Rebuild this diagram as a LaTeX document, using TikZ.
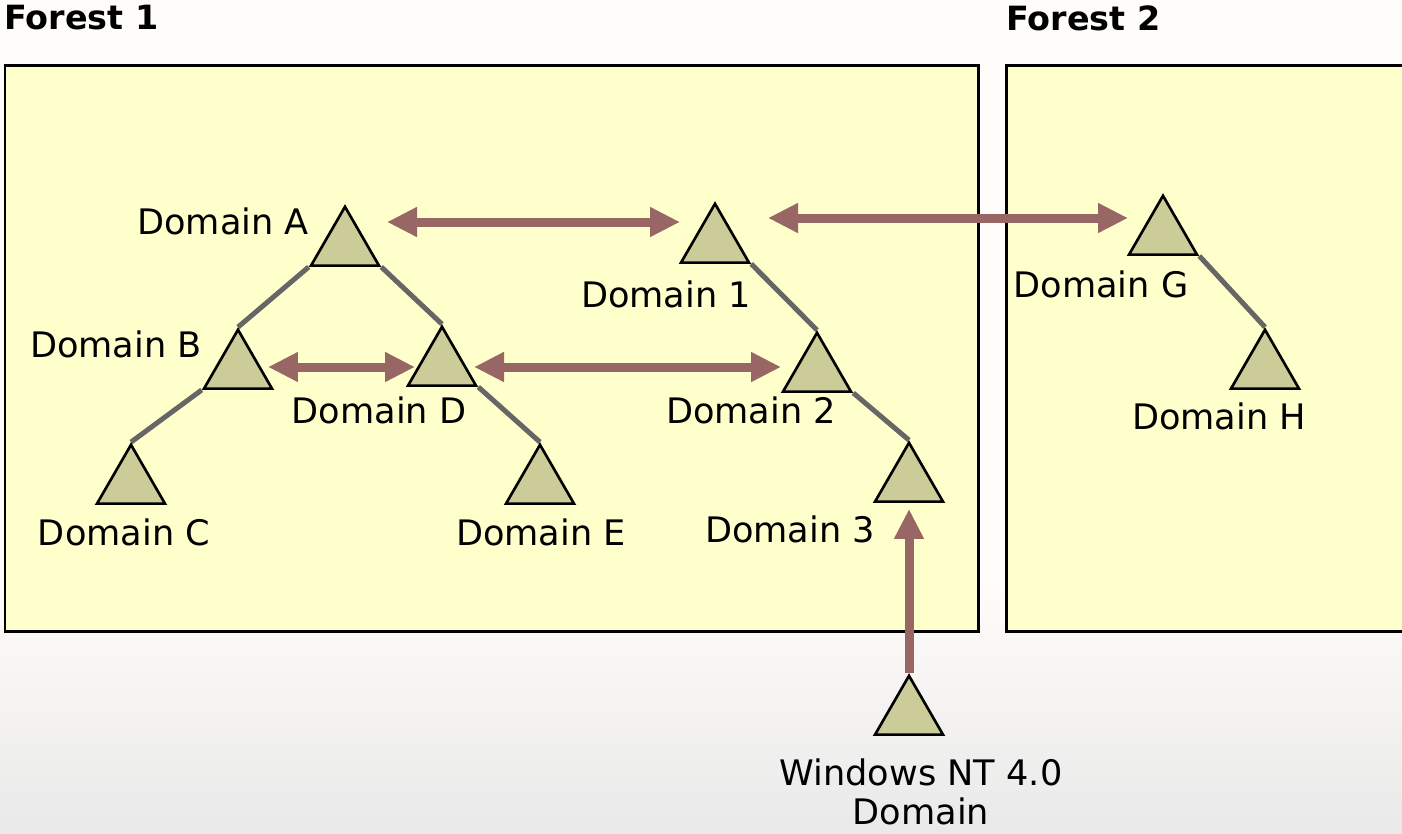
\documentclass[tikz,border=0pt]{standalone}
\usepackage{fontspec}
\setmainfont{DejaVu Sans}
\usepackage{xcolor}
\usepackage{tikz}
\usetikzlibrary{calc, positioning, arrows.meta, shapes, shapes.geometric}

\definecolor{foretfill}{HTML}{FFFFCC}
\definecolor{domfill}{HTML}{CCCC99}
\definecolor{liencol}{HTML}{996666}
\definecolor{branchecol}{HTML}{666666}
\definecolor{fond}{HTML}{FFFDFA}
\definecolor{fondbas}{HTML}{E9E9E9}

\pgfdeclarelayer{fondlayer}
\pgfdeclarelayer{lienlayer}
\pgfsetlayers{fondlayer,lienlayer,main}

\begin{document}
\begin{tikzpicture}[x=0.02cm, y=-0.02cm, font=\fontsize{20}{22}\selectfont,
		confiance/.style={draw=liencol, line width=0.18cm, {Triangle[length=0.6cm,width=0.56cm]}-{Triangle[length=0.6cm,width=0.56cm]}},
		sortant/.style={draw=liencol, line width=0.18cm, -{Triangle[length=0.6cm,width=0.56cm]}}]
			\tikzstyle{dom}=[draw=black, fill=domfill, regular polygon, regular polygon sides=3, minimum size=1.57cm, inner sep=0pt, line width=1.5pt]
			\tikzstyle{etiquette}=[inner sep=0pt, align=center]
			\tikzstyle{titre}=[inner sep=0pt, anchor=west, font=\bfseries\fontsize{19}{23}\selectfont]
			\tikzstyle{branche}=[draw=branchecol, line width=0.1cm]
			\tikzstyle{cadre}=[draw=black, fill=foretfill, line width=0.06cm]
			\clip (0,0) rectangle (1402,833);
		    % domaines
		    \node[dom] (A) at (345,246) {};
		    \node[dom] (B) at (238,369) {};
		    \node[dom] (C) at (131,484) {};
		    \node[dom] (D) at (442,366) {};
		    \node[dom] (E) at (540,484) {};
		    \node[dom] (D1) at (715,243) {};
		    \node[dom] (D2) at (817,372) {};
		    \node[dom] (D3) at (909,482) {};
		    \node[dom] (G) at (1163,235) {};
		    \node[dom] (H) at (1265,369) {};
		    \node[dom] (NT) at (909,715) {};
		    % noms
		    \node[etiquette] (lA) at (223,221) {Domain A};
		    \node[etiquette] (lB) at (116,344) {Domain B};
		    \node[etiquette] (lC) at (124,532) {Domain C};
		    \node[etiquette] (lD) at (379,410) {Domain D};
		    \node[etiquette] (lE) at (541,532) {Domain E};
		    \node[etiquette] (l1) at (666,294) {Domain 1};
		    \node[etiquette] (l2) at (751,410) {Domain 2};
		    \node[etiquette] (l3) at (790,529) {Domain 3};
		    \node[etiquette] (lG) at (1101,284) {Domain G};
		    \node[etiquette] (lH) at (1219,416) {Domain H};
		    \node[etiquette] (lNT) at (921,792) {Windows NT 4.0\\Domain};
		    \node[titre] (titre1) at (4,18) {Forest 1};
		    \node[titre] (titre2) at (1006,18) {Forest 2};
		    % arbres et approbations
		    \begin{pgfonlayer}{lienlayer}
		    \draw[branche] (A.corner 2) -- (B.north);
		    \draw[branche] (A.corner 3) -- (D.north);
		    \draw[branche] (B.corner 2) -- (C.north);
		    \draw[branche] (D.corner 3) -- (E.north);
		    \draw[branche] (D1.corner 3) -- (D2.north);
		    \draw[branche] (D2.corner 3) -- (D3.north);
		    \draw[branche] (G.corner 3) -- (H.north);
		    \draw[confiance] ([shift={(42,-24)}]A.center) -- ([shift={(-35,-21)}]D1.center);
		    \draw[confiance] ([shift={(53,-25)}]D1.center) -- ([shift={(-35,-17)}]G.center);
		    \draw[confiance] ([shift={(30,-2)}]B.center) -- ([shift={(-27,1)}]D.center);
		    \draw[confiance] ([shift={(32,1)}]D.center) -- ([shift={(-36,-5)}]D2.center);
		    \draw[sortant] (NT.north) -- ([yshift=-0.12cm]D3.south);
		    \end{pgfonlayer}
		    % les deux forets
		    \begin{pgfonlayer}{fondlayer}
		    \fill[fond] (0,0) rectangle (1402,833);
		    \shade[top color=fond, bottom color=fondbas] (0,580) rectangle (1402,833);
		    \draw[cadre] (5,65) rectangle (978,631);
		    \draw[cadre] (1006,65) rectangle (1430,631);
		    \end{pgfonlayer}
\end{tikzpicture}
\end{document}
